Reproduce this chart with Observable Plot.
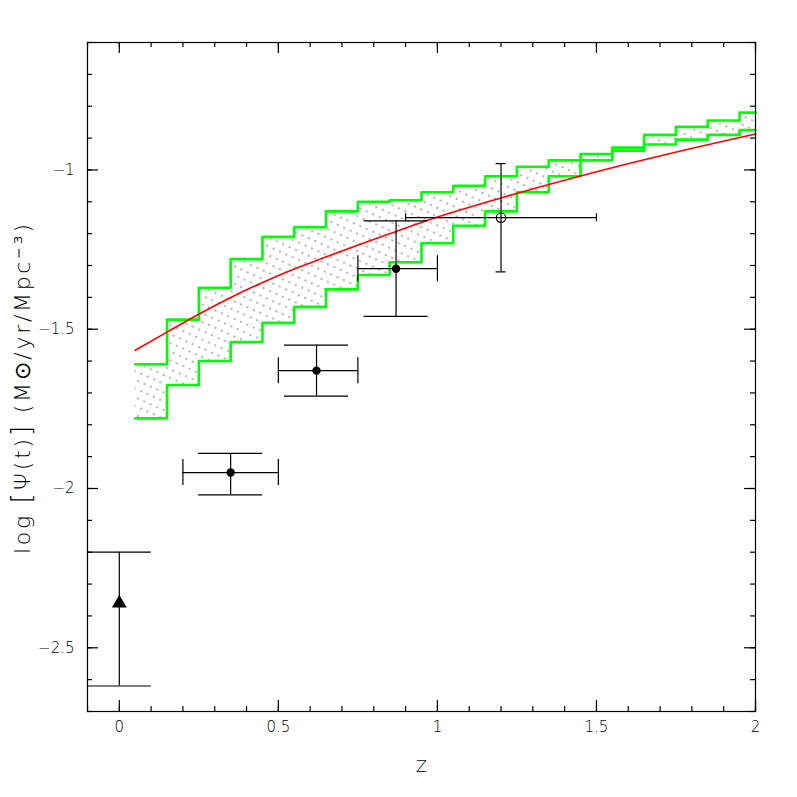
<!DOCTYPE html>
<html><head><meta charset="utf-8">
<script src="https://cdn.jsdelivr.net/npm/d3@7"></script>
<script src="https://cdn.jsdelivr.net/npm/@observablehq/plot@0.6"></script>
<style>body{margin:0;background:#fff}</style>
</head><body><div id="chart"></div>
<script>
// Model band (green staircase): bins start at these redshifts, width 0.1, last bin ends at 2.0
const binStart = [0.05,0.15,0.25,0.35,0.45,0.55,0.65,0.75,0.85,0.95,1.05,1.15,1.25,1.35,1.45,1.55,1.65,1.75,1.85,1.95];
const binEnd = 2.0;
const bandUpper = [-1.61,-1.47,-1.37,-1.28,-1.21,-1.18,-1.13,-1.10,-1.095,-1.07,-1.05,-1.02,-0.99,-0.97,-0.95,-0.93,-0.89,-0.865,-0.845,-0.82];
const bandLower = [-1.78,-1.675,-1.60,-1.54,-1.48,-1.43,-1.375,-1.33,-1.29,-1.23,-1.175,-1.13,-1.07,-1.02,-0.97,-0.94,-0.92,-0.905,-0.89,-0.875];

// Red model curve
const modelZ = [0.05,0.15,0.244,0.349,0.449,0.548,0.653,0.747,0.868,0.967,1.2,1.45,1.722,2.0];
const modelLogPsi = [-1.566,-1.509,-1.456,-1.401,-1.354,-1.312,-1.272,-1.237,-1.194,-1.159,-1.088,-1.019,-0.951,-0.8875];

// Observations
const obsZ = [0, 0.35, 0.62, 0.87, 1.2];
const obsLogPsi = [-2.36, -1.95, -1.63, -1.31, -1.15];
const obsZLo = [null, 0.2, 0.5, 0.75, 0.9];
const obsZHi = [null, 0.5, 0.75, 1.0, 1.5];
const obsLo = [-2.62, -2.02, -1.71, -1.46, -1.32];
const obsHi = [-2.2, -1.89, -1.55, -1.16, -0.98];
const obsSymbol = ["triangle","filled","filled","filled","open"];

// Axes
const xDomain = [-0.1, 2];
const yDomain = [-2.7, -0.6];
const xMajor = [0, 0.5, 1, 1.5, 2];
const xMinor = d3.range(-1, 21).map(i => i / 10);
const yMajor = [-2.5, -2, -1.5, -1];
const yMinor = d3.range(-27, -5).map(i => i / 10);
const xTitle = "Z";
const yTitle = "log [Ψ(t)] (M⊙/yr/Mpc⁻³)";

const band = binStart.map((z, i) => ({z, hi: bandUpper[i], lo: bandLower[i]}));
band.push({z: binEnd, hi: bandUpper[bandUpper.length - 1], lo: bandLower[bandLower.length - 1]});
const model = modelZ.map((z, i) => ({z, y: modelLogPsi[i]}));
const obs = obsZ.map((z, i) => ({z, y: obsLogPsi[i], zlo: obsZLo[i], zhi: obsZHi[i], lo: obsLo[i], hi: obsHi[i], s: obsSymbol[i]}));
const obsX = obs.filter(d => d.zlo != null);
const wideCap = obs.filter(d => d.s !== "open");
const narrowCap = obs.filter(d => d.s === "open");
const fmt = d3.format("~g");

const tickStyle = {stroke: "black", strokeWidth: 1.2};
const xTicks = (vals, len) => [
  Plot.ruleX(vals, {x: d => d, y1: yDomain[0], y2: yDomain[0], insetTop: -len, ...tickStyle}),
  Plot.ruleX(vals, {x: d => d, y1: yDomain[1], y2: yDomain[1], insetBottom: -len, ...tickStyle})
];
const yTicks = (vals, len) => [
  Plot.ruleY(vals, {y: d => d, x1: xDomain[0], x2: xDomain[0], insetRight: -len, ...tickStyle}),
  Plot.ruleY(vals, {y: d => d, x1: xDomain[1], x2: xDomain[1], insetLeft: -len, ...tickStyle})
];

const chart = Plot.plot({
  width: 797, height: 797,
  marginLeft: 87, marginRight: 42, marginTop: 42, marginBottom: 86,
  x: {domain: xDomain},
  y: {domain: yDomain},
  style: {fontFamily: "'DejaVu Sans', sans-serif", fontSize: "15px", fontWeight: 200, color: "black", background: "white"},
  marks: [
    Plot.areaY(band, {x: "z", y1: "lo", y2: "hi", curve: "step-after", fill: "url(#hatch)"}),
    Plot.lineY(band, {x: "z", y: "hi", curve: "step-after", stroke: "#00ff00", strokeWidth: 2.6}),
    Plot.lineY(band, {x: "z", y: "lo", curve: "step-after", stroke: "#00ff00", strokeWidth: 2.6}),
    Plot.line(model, {x: "z", y: "y", curve: "monotone-x", stroke: "#ff0000", strokeWidth: 1.6}),
    // error bars
    Plot.ruleX(obs, {x: "z", y1: "lo", y2: "hi", stroke: "black", strokeWidth: 1.2}),
    Plot.ruleY(obsX, {y: "y", x1: "zlo", x2: "zhi", stroke: "black", strokeWidth: 1.2}),
    // caps on vertical bars
    Plot.ruleY(wideCap, {y: "lo", x1: "z", x2: "z", insetLeft: -32, insetRight: -32, stroke: "black", strokeWidth: 1.2}),
    Plot.ruleY(wideCap, {y: "hi", x1: "z", x2: "z", insetLeft: -32, insetRight: -32, stroke: "black", strokeWidth: 1.2}),
    Plot.ruleY(narrowCap, {y: "lo", x1: "z", x2: "z", insetLeft: -5, insetRight: -5, stroke: "black", strokeWidth: 1.2}),
    Plot.ruleY(narrowCap, {y: "hi", x1: "z", x2: "z", insetLeft: -5, insetRight: -5, stroke: "black", strokeWidth: 1.2}),
    // caps on horizontal bars
    Plot.ruleX(obsX.filter(d => d.s !== "open"), {x: "zlo", y1: "y", y2: "y", insetTop: -13, insetBottom: -13, stroke: "black", strokeWidth: 1.2}),
    Plot.ruleX(obsX.filter(d => d.s !== "open"), {x: "zhi", y1: "y", y2: "y", insetTop: -13, insetBottom: -13, stroke: "black", strokeWidth: 1.2}),
    Plot.ruleX(narrowCap, {x: "zlo", y1: "y", y2: "y", insetTop: -4, insetBottom: -4, stroke: "black", strokeWidth: 1.2}),
    Plot.ruleX(narrowCap, {x: "zhi", y1: "y", y2: "y", insetTop: -4, insetBottom: -4, stroke: "black", strokeWidth: 1.2}),
    // symbols
    Plot.dot(obs.filter(d => d.s === "filled"), {x: "z", y: "y", r: 4.2, fill: "black", stroke: "none"}),
    Plot.dot(narrowCap, {x: "z", y: "y", r: 4.7, fill: "none", stroke: "black", strokeWidth: 1.2}),
    Plot.dot(obs.filter(d => d.s === "triangle"), {x: "z", y: "y", r: 5.5, symbol: "triangle", fill: "black", stroke: "none"}),
    Plot.frame({stroke: "black", strokeWidth: 1.2}),
    // inward ticks on all four sides
    ...xTicks(xMinor, 5), ...xTicks(xMajor, 11),
    ...yTicks(yMinor, 5), ...yTicks(yMajor, 11),
    // tick labels
    Plot.axisX(xMajor, {anchor: "bottom", tickSize: 0, tickPadding: 10, tickFormat: fmt, label: null}),
    Plot.axisY(yMajor, {anchor: "left", tickSize: 0, tickPadding: 13, tickFormat: fmt, label: null}),
    // axis titles
    Plot.text([xTitle], {frameAnchor: "bottom", dy: 60, fontSize: 16}),
    Plot.text([yTitle], {frameAnchor: "left", dx: -65, dy: 12, rotate: -90, textAnchor: "middle", lineAnchor: "middle", fontSize: 22, className: "ytitle"})
  ]
});

const ns = "http://www.w3.org/2000/svg";
const defs = document.createElementNS(ns, "defs");
defs.innerHTML = '<pattern id="hatch" patternUnits="userSpaceOnUse" width="7" height="8" patternTransform="rotate(24)"><line x1="0" y1="4" x2="7" y2="4" stroke="#111" stroke-width="0.6" stroke-dasharray="2.2 4.8"/></pattern>';
chart.insertBefore(defs, chart.firstChild);

// enlarge the brackets in the y title and stretch it to the reference length
const yt = chart.querySelector(".ytitle text");
if (yt) {
  const parts = yTitle.split(/([\[\]])/);
  yt.textContent = "";
  for (const p of parts) {
    if (!p) continue;
    const ts = document.createElementNS(ns, "tspan");
    ts.textContent = p;
    if (p === "[" || p === "]") ts.setAttribute("font-size", "27");
    yt.appendChild(ts);
  }
  yt.setAttribute("textLength", "330");
  yt.setAttribute("lengthAdjust", "spacing");
}
document.getElementById("chart").appendChild(chart);
</script>
</body></html>
